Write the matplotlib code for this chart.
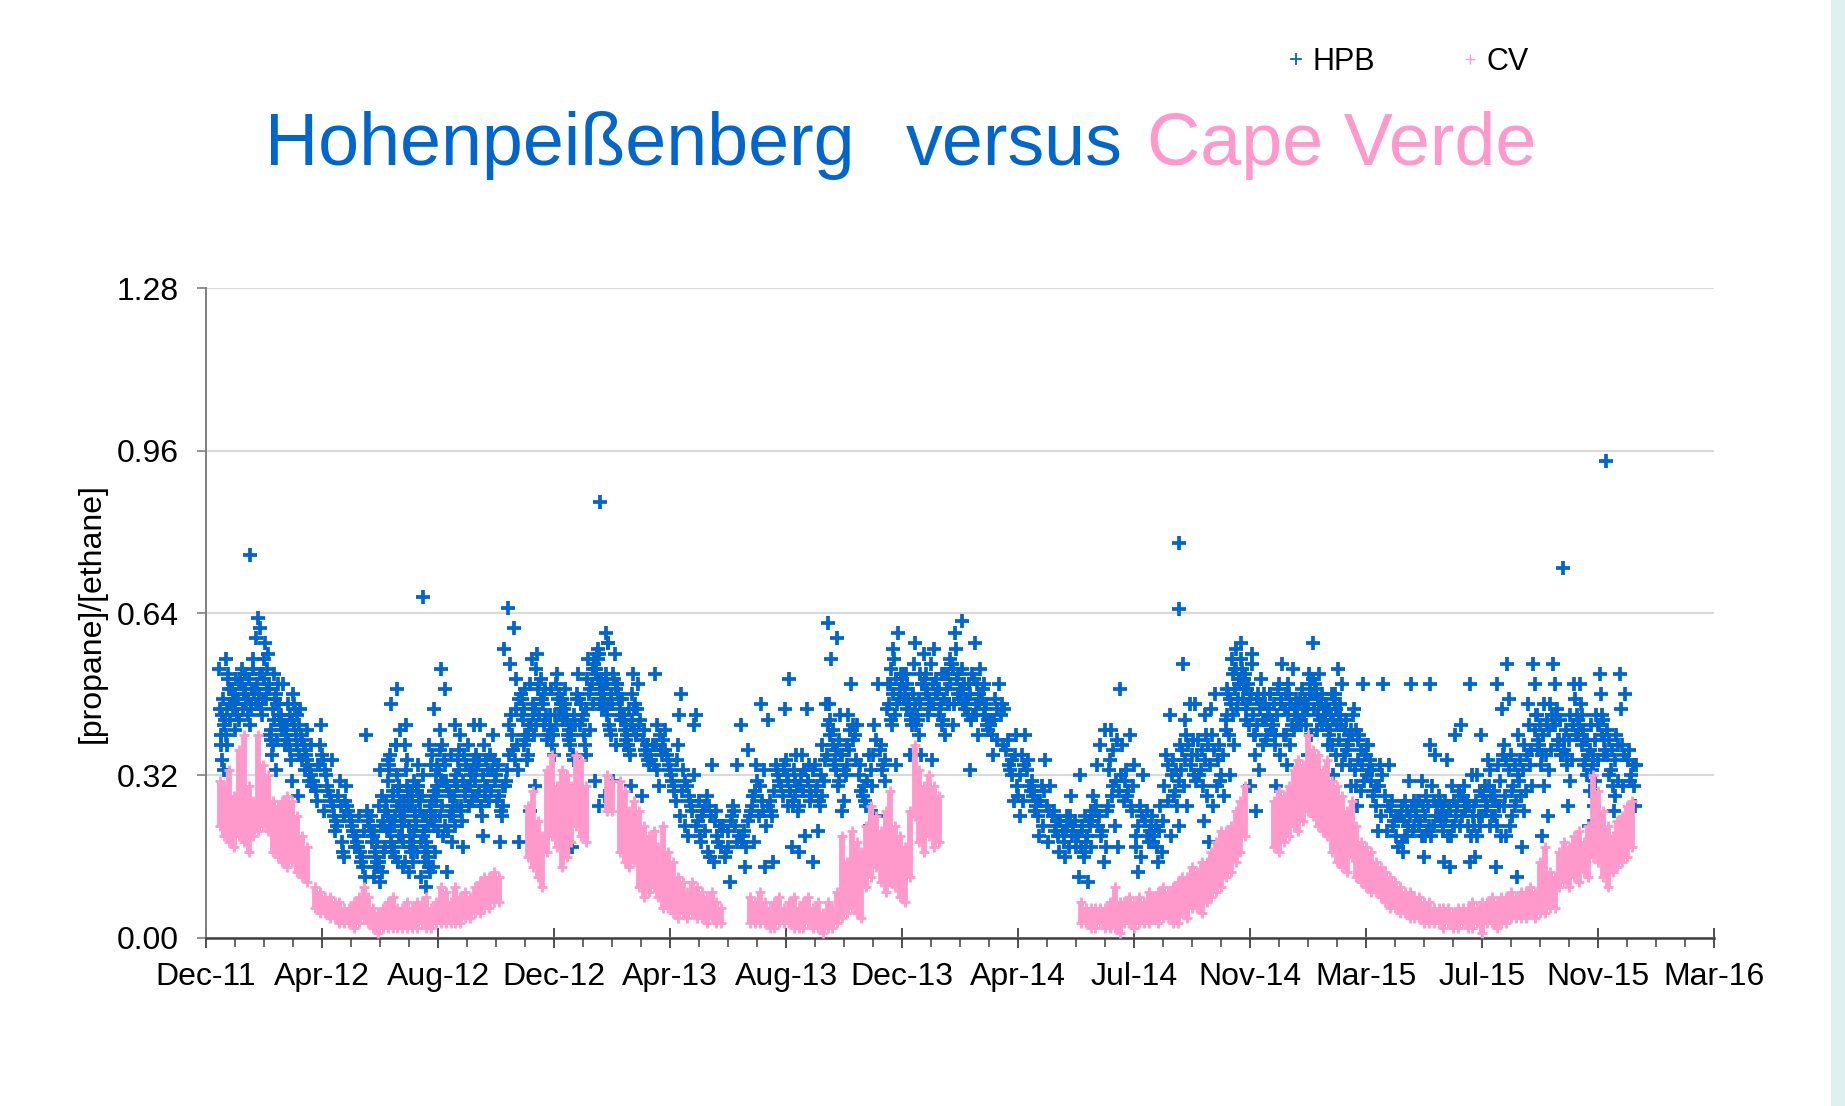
import numpy as np
import pandas as pd
import matplotlib
matplotlib.use('Agg')
from matplotlib import pyplot as plt
import matplotlib.dates as mdates
from matplotlib.lines import Line2D
from matplotlib.patches import Rectangle
from matplotlib.ticker import FixedLocator, FormatStrFormatter

plt.rcParams['font.family'] = ['Liberation Sans', 'DejaVu Sans']

BLUE = '#0066CC'
PINK = '#FF99CC'

# Hohenpeissenberg [propane]/[ethane], values x100 in
# half-month blocks: Jan 1-15, Jan 16-31, Feb 1-15, Feb 16-end, ...
hpb_dec2011 = "35 45 42 38 53 47 40 33 44"          # Dec 26-31 2011

hpb_2012 = [
    "45 48 43 50 47 52 44 46 55 41 49 47 45 38 51 46 43 47 51 44 49 40 46",
    "47 50 45 52 48 44 53 49 46 51 42 48 55 47 50 46 49 43 51 45 53",
    "49 52 46 58 61 50 47 63 53 45 59 51 48 56 44 50 47 52 49 55 46",
    "45 42 48 39 44 52 41 46 36 43 47 40 50 38 44 33 41 46 43 49 39",
    "43 40 45 37 42 48 39 44 35 41 46 38 50 31 42 40 44 38 42 46",
    "38 35 40 32 37 42 34 39 30 36 45 33 38 28 41 35 38 33 36 31",
    "34 31 36 29 33 38 30 35 27 32 42 30 25 34",
    "28 26 30 23 27 31 24 29 22 35 26 21 28",
    "24 21 26 19 23 27 20 25 17 22 30 18 24 16",
    "21 18 23 16 20 40 17 22 14 19 25 15 21 12 24",
    "18 15 21 13 19 24 11 17 22 14 20 28 16 25 33 12 23 15 19 22 14 17 26 20",
    "22 30 17 35 26 19 41 24 33 15 28 21 38 46 25 18 31 49 23 27 16 36 20 29 "
    "24 32 19 27 22 34 29 17 25 38 21 30",
    "20 25 15 28 22 18 33 24 13 27 19 30 23 17 38 21 26 14 29 42 24 18 "
    "23 17 29 20 26 15 31 22 19 27 35 24",
    "22 17 27 14 24 30 19 12 26 21 34 16 28 23 10 25 38 20 29 18 "
    "19 25 15 28 22 32 17 24 27 13 21 30",
    "28 34 24 45 31 21 36 53 27 49 33 22 38 30 25 41 17 35 29 14 26 32 23 37 29 20 34 27 31 24",
    "30 25 34 22 29 37 26 13 32 24 40 28 21 35 19 31 42 28 33 24 30 26 36 22 31",
    "31 27 34 25 30 36 28 38 23 32 29 42 26 18 33 30 26 33 28 35",
    "32 28 35 26 31 38 29 33 24 36 30 42 27 20 34 30 26 33 28 35",
    "30 27 33 25 31 36 28 40 24 32 29 19 35 26 34",
    "36 33 40 31 51 54 57 61 65 38 44 30 35 42 19 37 33 45",
    "42 38 46 35 44 50 40 47 36 43 55 39 48 25 45 44 40 47 42 49",
    "45 42 49 39 47 53 43 50 40 46 56 44 51 30 48 44 40 47 42 49",
    "44 40 47 38 45 50 42 48 36 43 52 41 46 28 44 44 40 47 42 49",
    "42 39 45 36 43 48 40 46 35 41 52 18 44 30 38 27 44 40 47 42 49",
]

hpb_2013 = [
    "45 42 48 40 46 51 43 49 38 47 55 44 50 36 46 41",
    "50 47 53 45 55 58 48 52 60 46 54 49 57 44 51 31 28 26 53 48 56 "
    "52 49 55 47 51 58 45 53 50 56",
    "46 43 49 41 47 52 44 50 40 45 56 42 48 31 47 38 48 44 51 46 50",
    "42 39 45 37 43 48 40 46 36 41 52 38 44 30 42 41 45 38 43",
    "40 37 42 35 39 45 36 43 34 41 50 38 28 40",
    "38 36 40 34 39 42 35 37 52 41 30 38 36 33",
    "35 32 37 30 34 38 31 36 27 33 44 29 35",
    "29 26 31 24 28 33 25 30 48 27 22 32 20",
    "24 22 26 20 42 25 23 28 19 44 21 27 17",
    "22 20 24 18 23 26 19 34 21 25 16 22 15",
    "21 19 24 17 22 11 20 26 18 34 23 16 25",
    "23 20 26 18 42 24 21 28 37 19 25 14",
    "28 25 31 22 46 29 33 24 43 27 34 14 30 19",
    "29 26 32 24 30 34 27 31 15 28 33 25",
    "31 51 34 27 32 36 29 45 33 26 30 18 35 28 29 33 26 31",
    "30 27 33 25 31 36 28 20 17 34 29 15 45 32 29 33 26 31",
    "32 29 35 27 33 38 30 46 26 34 31 21 36 28",
    "36 33 40 31 38 62 59 55 44 35 46 30 41 25 37 43 39 34 42 37",
    "38 35 41 33 39 44 36 50 32 40 37 27 42 34",
    "31 29 33 27 32 36 28 42 26 34 22 30",
    "36 33 39 31 37 42 34 50 30 38 24 35",
    "48 45 51 43 49 55 46 60 42 52 34 50 47 57 50 46 53 48 44",
    "48 45 51 43 49 54 46 52 42 50 58 36 47 44 47 50 44 52 46",
    "47 44 50 42 48 52 45 56 43 49 36 46 51 40 47 50 44 52 46",
]

hpb_2014 = [
    "47 44 50 42 48 52 45 57 43 49 35 46 51 40 49 46 52 48 54",
    "50 47 53 46 51 54 48 60 46 52 42 49 57 55 49 46 52 48 54",
    "48 45 51 44 49 52 46 58 33 50 44 47 53 43 47 44 50 46",
    "46 44 48 42 47 50 45 53 43 49 40 46 47 44 50 46",
    "43 41 45 40 44 47 42 50 36 46 39 43",
    "36 34 38 32 37 40 33 45 27 39 30 35",
    "32 30 34 28 33 36 29 40 24 35 27 31",
    "27 25 29 24 28 30 26 35 20 29 22 27",
    "23 21 25 20 24 26 22 30 17 25 19 23",
    "21 20 23 19 22 24 20 28 16 23 18 21 20 22 18 24",
    "20 18 22 17 12 11 21 25 19 32 23 16 20 20 22 18 24",
    "23 20 26 41 24 28 21 34 18 38 25 15 22",
    "28 25 31 35 29 37 26 39 41 49 22 33 18 30",
    "30 28 32 26 31 34 29 38 25 33 20 40 27",
    "22 20 24 18 23 26 19 32 13 25 16 21",
    "21 19 23 18 22 26 20 30 15 24 17 22",
    "31 28 34 26 32 36 29 44 22 35 27 33 20 38",
    "35 32 38 54 36 40 33 46 30 39 26 37 34 43",
    "35 32 38 30 36 40 33 46 23 39 28 37 31 44",
    "34 31 37 28 35 40 32 48 19 38 26 36 30 45",
    "46 43 49 40 47 52 44 57 32 50 38 48 45 55 41 53 47 51 44 49 53",
    "48 45 51 42 49 54 46 58 30 52 40 50 47 56 43 55 47 51 44 49 53",
    "42 39 45 36 43 48 40 51 25 46 33 44 38 47 43 46 40 48",
    "44 41 47 38 45 50 42 54 30 48 36 46 40 49 43 46 40 48",
]

hpb_2015 = [
    "44 42 46 40 45 48 43 53 34 47 38 45 41 50 45 42 48 44 46",
    "46 44 48 42 47 50 45 58 36 49 40 47 43 52 46 51 45 42 48 44 46",
    "45 43 47 42 46 49 44 52 38 48 41 46 43 50 45 44 45 42 48 44 46",
    "43 40 45 38 44 48 41 53 32 46 36 44 39 47 45 42 48 44 46",
    "40 37 42 34 41 45 38 50 30 43 33 40 36 44 38 34 41 36",
    "35 32 37 30 36 40 33 50 26 38 29 35 31 39 38 34 41 36",
    "30 28 32 26 31 34 29 50 21 33 24 30",
    "24 22 26 20 25 28 23 34 18 27 21 24",
    "23 21 25 19 50 27 22 31 17 26 20 24 24 20 27 22 26",
    "24 22 26 20 25 28 23 38 16 27 21 31 24 20 27 22 26",
    "50 24 27 21 26 30 23 36 15 28 22 25 24 20 27 22 26",
    "25 23 27 20 26 30 24 40 14 28 22 35 24 20 27 22 26",
    "50 25 29 22 28 32 26 42 15 30 24 27 24 20 27 22 26",
    "27 25 29 22 28 32 26 40 16 30 24 35 24 20 27 22 26",
    "50 28 31 24 30 34 27 45 14 33 26 29 36 22 24 20 27 22 26",
    "32 29 35 26 33 38 30 54 12 36 28 34 47 40 24 20 27 22 26",
    "33 30 36 28 34 38 31 46 18 37 29 35 42 25",
    "40 37 43 34 41 46 38 54 20 44 36 42 50 30 39 42 36 44",
    "41 38 44 36 42 46 39 54 24 45 37 43 50 33 39 42 36 44",
    "39 36 42 34 40 44 37 50 26 43 35 41 47 31 39 42 36 44",
    "37 34 40 32 38 42 35 50 22 41 33 39 46 29 39 42 36 44",
    "39 36 42 34 40 44 37 52 26 43 35 41 48 31 39 42 36 44",
    "35 32 38 30 36 40 33 52 25 39 31 37 45 28",
    "34 31 36 30 35 38 32 48 26 37 30 34",
]

# single high values
hpb_out_dates = ['2012-01-27', '2012-07-24', '2013-01-24', '2014-02-02',
                 '2014-09-15', '2014-09-15', '2015-10-17', '2015-11-30']
hpb_out_vals = [0.754, 0.672, 0.858, 0.624, 0.777, 0.647, 0.728, 0.939]

# Cape Verde: 5-day min / max (x100) for each measurement period
cv_starts = ['2011-12-27', '2012-04-04', '2012-11-10', '2013-01-31',
             '2013-02-13', '2013-06-28', '2014-06-05', '2014-12-22']
cv_lo = [
    "22 20 19 18 20 19 17 20 21 22 21 17 16 15 14 15 13 12 11",
    "06 05 05 04 04 03 03 03 02 03 04 03 02 01 02 02 02 02 02 02 02 02 03 02 "
    "02 03 03 03 03 03 03 04 04 05 05 06 06 07 07",
    "16 14 12 10 17 20 18 14 16 19 22 20 19",
    "25 25",
    "17 15 14 15 10 08 09 10 08 06 06 05 04 05 04 05 04 04 03 04 03 03",
    "03 03 03 03 02 02 03 03 03 02 02 02 03 02 02 01 02 02 03 "
    "04 05 06 05 04 10 12 14 11 09 11 10 08 07 12 24 19 17 20 18 19",
    "03 03 02 02 03 02 02 02 01 03 03 02 03 03 03 04 03 04 "
    "04 03 03 05 04 06 06 05 07 08 09 10 12 13 15 17 20",
    "18 17 19 20 22 21 23 25 24 22 21 20 17 15 14 13 16 12 11 10 "
    "09 09 08 07 06 06 05 05 04 04 04 03 03 03 03 02 03 02 02 "
    "03 02 02 03 01 03 03 02 03 03 04 04 04 04 05 04 05 05 "
    "06 06 10 11 10 12 11 13 12 16 15 12 10 13 14 15 16 18",
]
cv_hi = [
    "31 30 33 28 37 40 30 27 40 34 32 27 26 27 28 27 24 20 18",
    "10 09 08 08 07 07 06 06 07 08 10 08 06 05 06 07 08 06 06 07 06 07 07 08 "
    "06 07 10 09 07 10 08 09 08 10 11 12 12 13 12",
    "26 29 23 20 33 36 30 33 32 30 36 35 30",
    "32 31",
    "31 29 25 27 25 22 20 21 18 22 17 15 12 11 09 11 10 09 08 09 07 06",
    "08 07 09 07 06 07 08 06 07 08 06 07 08 06 07 05 07 06 09 "
    "20 15 21 19 17 22 26 24 21 25 29 22 20 18 25 38 33 30 32 30 28",
    "07 06 06 06 06 06 07 10 07 07 08 07 08 07 09 08 09 10 "
    "09 10 11 12 12 14 13 15 15 17 19 21 21 22 25 27 30",
    "27 29 28 30 33 35 34 40 37 36 33 35 31 30 28 25 27 22 19 18 "
    "17 15 14 13 12 11 10 09 09 08 08 07 07 06 06 06 06 05 06 "
    "06 06 07 06 07 07 08 07 08 08 09 08 09 09 10 09 15 18 "
    "13 12 17 19 18 20 21 19 22 32 29 25 22 20 23 24 26 27",
]

x_start = pd.Timestamp('2011-12-13')
major_step = 120
minor_step = 30
n_major = 13
y_ticks = [0.00, 0.32, 0.64, 0.96, 1.28]

GOLD = 0.6180339887


def block_points(t0, t1, blk, seed):
    # samples of one block, spread over its days in a fixed scrambled order
    vals = [int(v) / 100 for v in blk.split()]
    n = len(vals)
    frac = [((k + 1) * GOLD + seed * 0.377) % 1.0 for k in range(n)]
    return [t0 + (t1 - t0) * f for f in frac], vals


def year_points(year, blocks):
    xs, ys = [], []
    for i, blk in enumerate(blocks):
        month = i // 2 + 1
        if i % 2 == 0:
            t0 = pd.Timestamp(year, month, 1)
            t1 = pd.Timestamp(year, month, 16)
        else:
            t0 = pd.Timestamp(year, month, 16)
            t1 = t0 + pd.offsets.MonthBegin(1)
        bx, by = block_points(t0, t1, blk, i + year)
        xs += bx
        ys += by
    return xs, ys


hpb_x, hpb_y = block_points(pd.Timestamp('2011-12-26'), pd.Timestamp('2012-01-01'),
                            hpb_dec2011, 0)
for yr, blocks in [(2012, hpb_2012), (2013, hpb_2013), (2014, hpb_2014), (2015, hpb_2015)]:
    xs, ys = year_points(yr, blocks)
    hpb_x += xs
    hpb_y += ys
hpb_x += [pd.Timestamp(d) for d in hpb_out_dates]
hpb_y += hpb_out_vals
hpb_xn = mdates.date2num(pd.DatetimeIndex(hpb_x).to_pydatetime())

cv_x, cv_l, cv_h = [], [], []
for st, lo, hi in zip(cv_starts, cv_lo, cv_hi):
    lo_v = [int(v) / 100 for v in lo.split()]
    hi_v = [int(v) / 100 for v in hi.split()]
    d = pd.date_range(st, periods=len(lo_v), freq='5D')
    cv_x += list(mdates.date2num(d.to_pydatetime()))
    cv_l += lo_v
    cv_h += hi_v
cv_x = np.array(cv_x)

# Plot data
fig = plt.figure(figsize=(18.45, 11.06), dpi=100)
fig.patch.set_facecolor('white')
fig.patches.append(Rectangle((0.9924, 0), 0.0076, 1, transform=fig.transFigure,
                             facecolor='#DFF0F0', edgecolor='none', zorder=0))
ax = fig.add_axes([0.1117, 0.1519, 0.8173, 0.5877])

ax.plot(hpb_xn, hpb_y, ls='none', marker='+', ms=9.5, mew=2.7, color=BLUE, zorder=3)
ax.vlines(cv_x, cv_l, cv_h, color=PINK, lw=4.2, zorder=4)
ax.plot(cv_x, cv_l, ls='none', marker='+', ms=6.5, mew=2.0, color=PINK, zorder=4)
ax.plot(cv_x, cv_h, ls='none', marker='+', ms=6.5, mew=2.0, color=PINK, zorder=4)

# Style plot
x0 = mdates.date2num(x_start.to_pydatetime())
ax.set_xlim(x0, x0 + major_step * n_major)
ax.set_ylim(0, 1.28)
ax.xaxis.set_major_locator(FixedLocator([x0 + major_step * k for k in range(n_major + 1)]))
ax.xaxis.set_minor_locator(FixedLocator([x0 + minor_step * k for k in range(4 * n_major + 1)
                                         if k % 4 != 0]))
ax.xaxis.set_major_formatter(mdates.DateFormatter('%b-%y'))
ax.yaxis.set_major_locator(FixedLocator(y_ticks))
ax.yaxis.set_major_formatter(FormatStrFormatter('%.2f'))

for s in ['top', 'right']:
    ax.spines[s].set_visible(False)
ax.spines['left'].set_color('#7f7f7f')
ax.spines['left'].set_linewidth(1.4)
ax.spines['bottom'].set_color('#404040')
ax.spines['bottom'].set_linewidth(1.8)
ax.grid(axis='y', color='#D9D9D9', lw=1.5, zorder=0)
ax.set_axisbelow(True)

ax.tick_params(axis='x', which='major', direction='inout', length=14, width=1.3,
               color='#404040', labelsize=23, pad=10)
ax.tick_params(axis='x', which='minor', direction='out', length=6.5, width=1.1,
               color='#404040')
ax.tick_params(axis='y', which='major', direction='out', length=6.5, width=1.2,
               color='#7f7f7f', labelsize=23, pad=13)

ax.set_ylabel('[propane]/[ethane]', fontsize=23)
ax.yaxis.set_label_coords(-0.066, 0.5)

# title in three coloured pieces
fig.text(0.1436, 0.8508, 'Hohenpeißenberg', color=BLUE, fontsize=53, va='baseline')
fig.text(0.491, 0.8508, 'versus', color=BLUE, fontsize=53, va='baseline')
fig.text(0.6217, 0.8508, 'Cape Verde', color=PINK, fontsize=53, va='baseline')

handles = [Line2D([], [], ls='none', marker='+', ms=9, mew=1.3, color=BLUE),
           Line2D([], [], ls='none', marker='+', ms=7, mew=1.0, color=PINK)]
fig.legend(handles, ['HPB', 'CV'], loc='center left', bbox_to_anchor=(0.6974, 0.9442),
           ncol=2, frameon=False, fontsize=22, handlelength=0.6, handletextpad=0.25,
           columnspacing=2.8, borderpad=0, borderaxespad=0)

plt.savefig('out.png', dpi=100)
